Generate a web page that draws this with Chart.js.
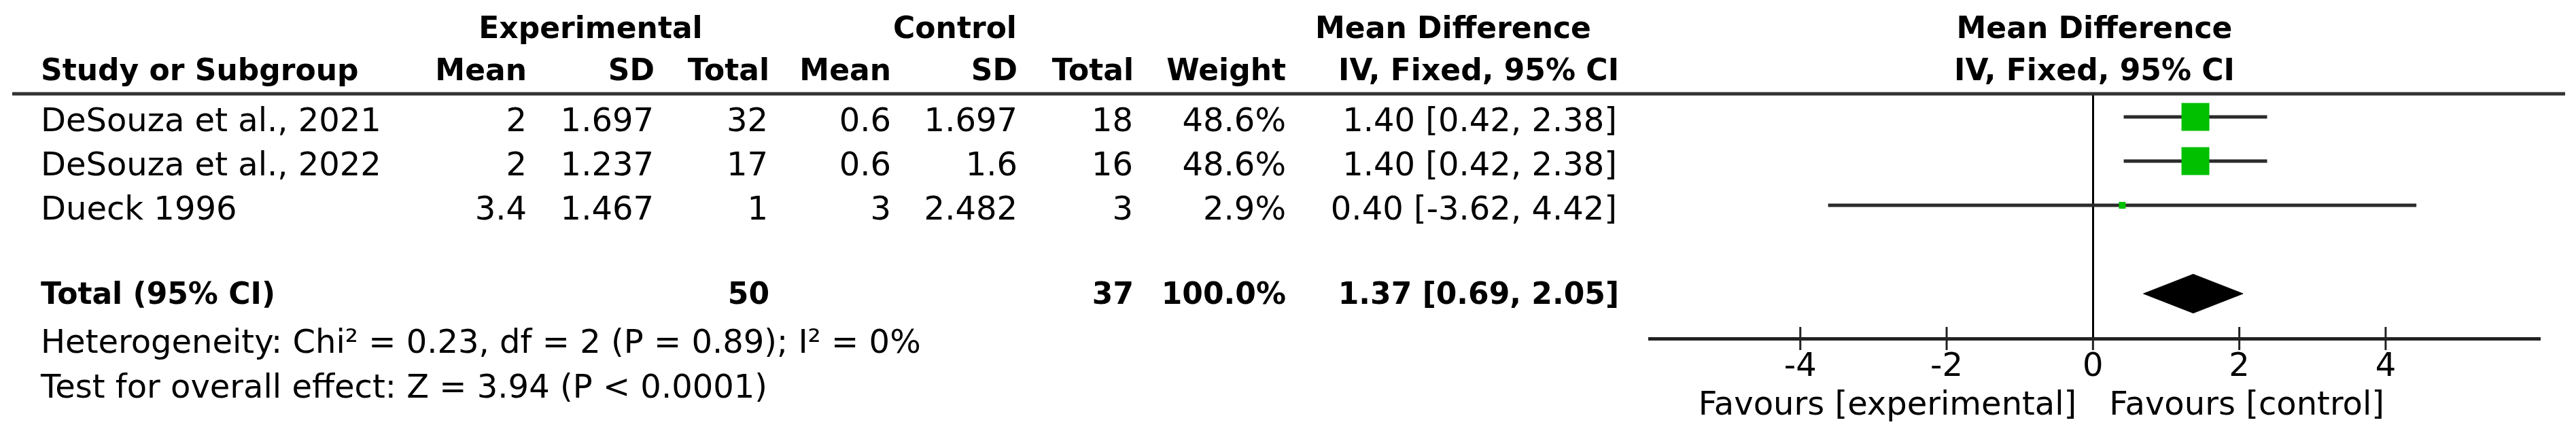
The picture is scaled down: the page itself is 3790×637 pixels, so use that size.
<!DOCTYPE html>
<html>
<head>
<meta charset="utf-8">
<script src="https://cdn.jsdelivr.net/npm/chart.js@4.4.1/dist/chart.umd.min.js"></script>
<style>
  html, body { margin: 0; padding: 0; background: #fff; }
  #wrap { width: 3790px; height: 637px; position: relative; }
</style>
</head>
<body>
<div id="wrap"><canvas id="forest"></canvas></div>
<script>
// study data
const studies = ['DeSouza et al., 2021', 'DeSouza et al., 2022', 'Dueck 1996'];
const expMean = [2, 2, 3.4];
const expSD = [1.697, 1.237, 1.467];
const expTotal = [32, 17, 1];
const ctrlMean = [0.6, 0.6, 3];
const ctrlSD = [1.697, 1.6, 2.482];
const ctrlTotal = [18, 16, 3];
const weights = [48.6, 48.6, 2.9];
const meanDiff = [1.40, 1.40, 0.40];
const ciLow = [0.42, 0.42, -3.62];
const ciHigh = [2.38, 2.38, 4.42];

// pooled result
const pooled = 1.37, pooledLow = 0.69, pooledHigh = 2.05, pooledWeight = 100.0;
const heterogeneity = 'Heterogeneity: Chi² = 0.23, df = 2 (P = 0.89); I² = 0%';
const overallEffect = 'Test for overall effect: Z = 3.94 (P < 0.0001)';

const xTicks = [-4, -2, 0, 2, 4];
const favours = ['Favours [experimental]', 'Favours [control]'];

const FONT = 'DejaVu Sans';
const GREEN = '#00c000';
const totalRow = studies.length + 2;
const sum = a => a.reduce((s, v) => s + v, 0);
const ci = (m, l, h) => `${m.toFixed(2)} [${l.toFixed(2)}, ${h.toFixed(2)}]`;

Chart.defaults.font.family = FONT;

// table text, header line, ticks and tick labels
const tabela = {
  id: 'tabela',
  afterDraw(chart) {
    const ctx = chart.ctx;
    const area = chart.chartArea;
    const sx = chart.scales.x, sy = chart.scales.y;
    ctx.save();

    ctx.strokeStyle = '#333';
    ctx.lineWidth = 5;
    ctx.beginPath();
    ctx.moveTo(18, area.top);
    ctx.lineTo(3774, area.top);
    ctx.stroke();

    ctx.fillStyle = '#000';
    ctx.textBaseline = 'alphabetic';
    const txt = (s, x, y, align, bold) => {
      ctx.font = bold ? `bold 44px "${FONT}"` : `48px "${FONT}"`;
      ctx.textAlign = align;
      ctx.fillText(s, x, y);
    };

    // axis ticks (cross the axis line) and labels
    ctx.strokeStyle = '#222';
    ctx.lineWidth = 3;
    xTicks.forEach(t => {
      const px = sx.getPixelForValue(t);
      ctx.beginPath();
      ctx.moveTo(px, t === 0 ? area.bottom : area.bottom - 17);
      ctx.lineTo(px, area.bottom + 17);
      ctx.stroke();
      txt(String(t), px, area.bottom + 55, 'center');
    });

    const mid = (area.left + area.right) / 2;

    // headers
    txt('Experimental', 869, 56, 'center', true);
    txt('Control', 1405, 56, 'center', true);
    txt('Mean Difference', 2138, 56, 'center', true);
    txt('Mean Difference', mid, 56, 'center', true);
    txt('Study or Subgroup', 60, 118, 'left', true);
    txt('Mean', 775, 118, 'right', true);
    txt('SD', 963, 118, 'right', true);
    txt('Total', 1132, 118, 'right', true);
    txt('Mean', 1311, 118, 'right', true);
    txt('SD', 1497, 118, 'right', true);
    txt('Total', 1668, 118, 'right', true);
    txt('Weight', 1892, 118, 'right', true);
    txt('IV, Fixed, 95% CI', 2382, 118, 'right', true);
    txt('IV, Fixed, 95% CI', mid, 118, 'center', true);

    // study rows
    studies.forEach((s, i) => {
      const y = sy.getPixelForValue(i + 1) + 21;
      txt(s, 60, y, 'left');
      txt(String(expMean[i]), 775, y, 'right');
      txt(String(expSD[i]), 962, y, 'right');
      txt(String(expTotal[i]), 1130, y, 'right');
      txt(String(ctrlMean[i]), 1311, y, 'right');
      txt(String(ctrlSD[i]), 1497, y, 'right');
      txt(String(ctrlTotal[i]), 1667, y, 'right');
      txt(weights[i].toFixed(1) + '%', 1892, y, 'right');
      txt(ci(meanDiff[i], ciLow[i], ciHigh[i]), 2379, y, 'right');
    });

    // total row
    const ty = sy.getPixelForValue(totalRow) + 15;
    txt('Total (95% CI)', 60, ty, 'left', true);
    txt(String(sum(expTotal)), 1132, ty, 'right', true);
    txt(String(sum(ctrlTotal)), 1668, ty, 'right', true);
    txt(pooledWeight.toFixed(1) + '%', 1892, ty, 'right', true);
    txt(ci(pooled, pooledLow, pooledHigh), 2382, ty, 'right', true);
    txt(heterogeneity, 60, ty + 72, 'left');
    txt(overallEffect, 60, ty + 138, 'left');

    // favours labels
    const zero = sx.getPixelForValue(0);
    txt(favours[0], zero - 24, 610, 'right');
    txt(favours[1], zero + 24, 610, 'left');

    ctx.restore();
  }
};

const ciLines = studies.map((s, i) => ({
  label: s,
  data: [{ x: ciLow[i], y: i + 1 }, { x: ciHigh[i], y: i + 1 }],
  borderColor: '#2b2b2b',
  borderWidth: 5,
  pointRadius: 0,
  order: 2
}));

const squares = {
  label: 'Mean difference',
  data: meanDiff.map((m, i) => ({ x: m, y: i + 1 })),
  showLine: false,
  pointStyle: 'rect',
  pointRadius: weights.map(w => 5.88 * Math.sqrt(w) / Math.SQRT2),
  backgroundColor: GREEN,
  borderWidth: 0,
  order: 0
};

const diamondH = 0.44;
const diamond = {
  label: 'Total',
  data: [
    { x: pooledLow, y: totalRow },
    { x: pooled, y: totalRow - diamondH },
    { x: pooledHigh, y: totalRow },
    { x: pooled, y: totalRow + diamondH },
    { x: pooledLow, y: totalRow }
  ],
  borderColor: '#000',
  backgroundColor: '#000',
  borderWidth: 1,
  pointRadius: 0,
  fill: 'shape',
  tension: 0,
  order: 1
};

new Chart(document.getElementById('forest'), {
  type: 'line',
  data: { datasets: [squares, diamond, ...ciLines] },
  options: {
    responsive: true,
    maintainAspectRatio: false,
    animation: false,
    events: [],
    layout: { padding: { left: 2427, right: 54, top: 138, bottom: 59 } },
    plugins: { legend: { display: false }, tooltip: { enabled: false } },
    scales: {
      x: {
        type: 'linear',
        min: -6.06,
        max: 6.1,
        afterBuildTicks: s => { s.ticks = xTicks.map(v => ({ value: v })); },
        afterFit: s => { s.height = 80; },
        border: { display: true, color: '#222', width: 5 },
        grid: {
          drawOnChartArea: true,
          drawTicks: false,
          color: c => (c.tick && c.tick.value === 0 ? '#000' : 'rgba(0,0,0,0)'),
          lineWidth: 3
        },
        ticks: { display: false }
      },
      y: {
        type: 'linear',
        display: false,
        reverse: true,
        min: 0.477,
        max: 6.015
      }
    }
  },
  plugins: [tabela]
});
</script>
</body>
</html>
